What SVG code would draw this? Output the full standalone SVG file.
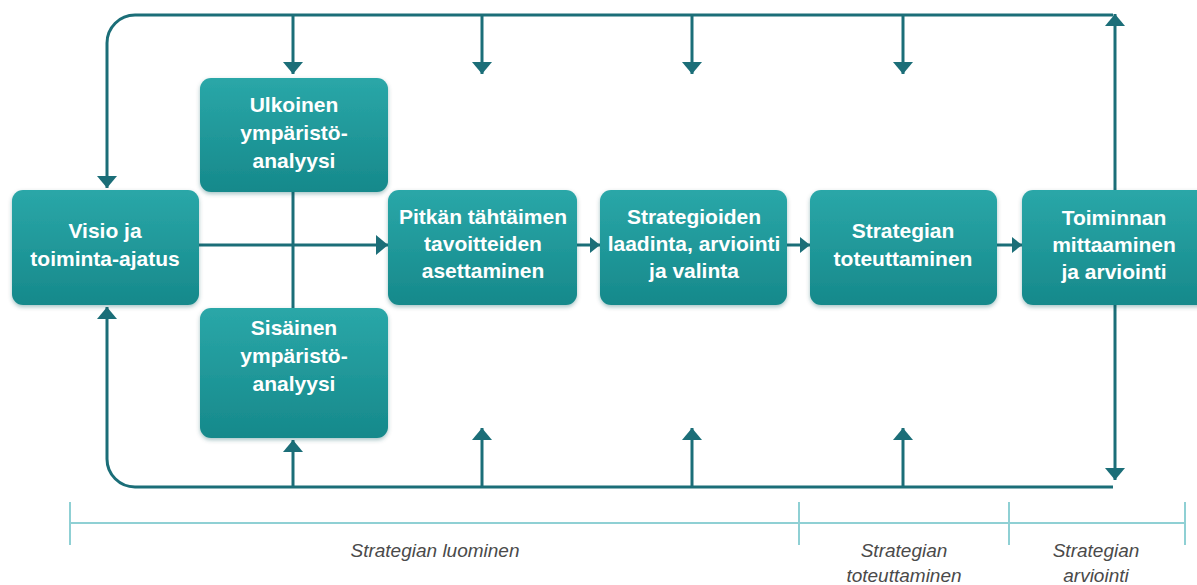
<svg xmlns="http://www.w3.org/2000/svg" width="1197" height="585" viewBox="0 0 1197 585">
  <defs>
    <linearGradient id="boxFill" x1="0" y1="0" x2="0" y2="1">
      <stop offset="0" stop-color="#2aa7a8"/>
      <stop offset="1" stop-color="#16898b"/>
    </linearGradient>
    <filter id="soft" x="-10%" y="-10%" width="120%" height="125%">
      <feGaussianBlur in="SourceAlpha" stdDeviation="2"/>
      <feOffset dx="0" dy="2" result="b"/>
      <feFlood flood-color="#0b5358" flood-opacity="0.35"/>
      <feComposite in2="b" operator="in"/>
      <feMerge><feMergeNode/><feMergeNode in="SourceGraphic"/></feMerge>
    </filter>
    <marker id="head" viewBox="0 0 12 20" refX="12" refY="10" markerWidth="12" markerHeight="20" markerUnits="userSpaceOnUse" orient="auto">
      <path d="M0,0 L12,10 L0,20 Z" fill="#1b6e78"/>
    </marker>
    <marker id="headSmall" viewBox="0 0 10 16" refX="10" refY="8" markerWidth="10" markerHeight="16" markerUnits="userSpaceOnUse" orient="auto">
      <path d="M0,0 L10,8 L0,16 Z" fill="#1b6e78"/>
    </marker>
  </defs>
  <style>
    .box { fill: url(#boxFill); filter: url(#soft); }
    .lbl { font-family: "Liberation Sans", Arial, sans-serif; font-weight: bold; font-size: 21px; fill: #ffffff; text-anchor: middle; }
    .ln { fill: none; stroke: #1b6e78; stroke-width: 3; }
    .arr { marker-end: url(#head); }
    .arrS { marker-end: url(#headSmall); }
    .tl { fill: none; stroke: #8fd0d4; stroke-width: 2; }
    .phase { font-family: "Liberation Sans", Arial, sans-serif; font-style: italic; font-size: 19px; fill: #4a4a4a; text-anchor: middle; }
  </style>

  <rect width="1197" height="585" fill="#ffffff"/>

  <!-- connectors -->
  <g id="connectors">
    <!-- feedback loop along the top -->
    <path class="ln arr" d="M1113,15 H135 A28,28 0 0 0 107,43 V188"/>
    <path class="ln arr" d="M293,15 V74"/>
    <path class="ln arr" d="M482,15 V74"/>
    <path class="ln arr" d="M692,15 V74"/>
    <path class="ln arr" d="M903,15 V74"/>
    <path class="ln arr" d="M1115,190 V14"/>
    <!-- feedback loop along the bottom -->
    <path class="ln arr" d="M1115,305 V480"/>
    <path class="ln arr" d="M1113,487 H135 A28,28 0 0 1 107,459 V307"/>
    <path class="ln arr" d="M293,487 V440"/>
    <path class="ln arr" d="M482,487 V428"/>
    <path class="ln arr" d="M692,487 V428"/>
    <path class="ln arr" d="M903,487 V428"/>
    <!-- main flow -->
    <path class="ln" d="M293,192 V308"/>
    <path class="ln arr" d="M199,245 H388"/>
    <path class="ln arrS" d="M577,245 H600"/>
    <path class="ln arrS" d="M787,245 H810"/>
    <path class="ln arrS" d="M997,245 H1022"/>
  </g>

  <!-- nodes -->
  <g id="visio">
    <rect class="box" x="12" y="190" width="187" height="115" rx="11"/>
    <text class="lbl" x="105" y="238">Visio ja</text>
    <text class="lbl" x="105" y="266">toiminta-ajatus</text>
  </g>
  <g id="ulkoinen">
    <rect class="box" x="200" y="78" width="188" height="114" rx="11"/>
    <text class="lbl" x="294" y="112">Ulkoinen</text>
    <text class="lbl" x="294" y="140">ympäristö-</text>
    <text class="lbl" x="294" y="168">analyysi</text>
  </g>
  <g id="sisainen">
    <rect class="box" x="200" y="308" width="188" height="130" rx="11"/>
    <text class="lbl" x="294" y="335">Sisäinen</text>
    <text class="lbl" x="294" y="363">ympäristö-</text>
    <text class="lbl" x="294" y="391">analyysi</text>
  </g>
  <g id="tavoitteet">
    <rect class="box" x="388" y="190" width="189" height="115" rx="11"/>
    <text class="lbl" x="483" y="224">Pitkän tähtäimen</text>
    <text class="lbl" x="483" y="251">tavoitteiden</text>
    <text class="lbl" x="483" y="278">asettaminen</text>
  </g>
  <g id="strategiat">
    <rect class="box" x="600" y="190" width="187" height="115" rx="11"/>
    <text class="lbl" x="694" y="224">Strategioiden</text>
    <text class="lbl" x="694" y="251">laadinta, arviointi</text>
    <text class="lbl" x="694" y="278">ja valinta</text>
  </g>
  <g id="toteutus">
    <rect class="box" x="810" y="190" width="187" height="115" rx="11"/>
    <text class="lbl" x="903" y="238">Strategian</text>
    <text class="lbl" x="903" y="266">toteuttaminen</text>
  </g>
  <g id="arviointi">
    <rect class="box" x="1022" y="190" width="190" height="115" rx="11"/>
    <text class="lbl" x="1114" y="225">Toiminnan</text>
    <text class="lbl" x="1114" y="252">mittaaminen</text>
    <text class="lbl" x="1114" y="279">ja arviointi</text>
  </g>

  <!-- phase timeline -->
  <g id="timeline">
    <path class="tl" d="M70,523 H1185"/>
    <path class="tl" d="M70,502 V545 M799,502 V545 M1009,502 V545 M1185,502 V545"/>
    <text class="phase" x="435" y="557">Strategian luominen</text>
    <text class="phase" x="904" y="557">Strategian</text>
    <text class="phase" x="904" y="582">toteuttaminen</text>
    <text class="phase" x="1096" y="557">Strategian</text>
    <text class="phase" x="1096" y="582">arviointi</text>
  </g>
</svg>
